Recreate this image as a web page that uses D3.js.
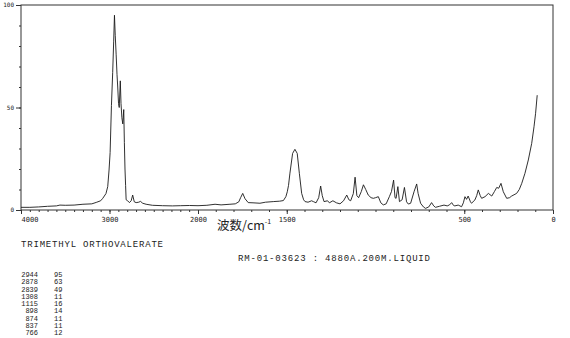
<!DOCTYPE html>
<html>
<head>
<meta charset="utf-8">
<script src="https://cdn.jsdelivr.net/npm/d3@7"></script>
<style>
  body { margin: 0; background: #fff; }
  svg { display: block; }
  .axis text { font-family: "DejaVu Sans Mono", monospace; fill: #222; }
  .axis line, .axis path { stroke: #333; }
  .mono { font-family: "Liberation Mono", "DejaVu Sans Mono", monospace; fill: #222; }
</style>
</head>
<body>
<div class="chart"></div>
<script>
// spectrum (wavenumber cm-1, relative intensity)
const wavenumbers = [4000, 3900, 3800, 3700, 3600, 3560, 3500, 3400, 3300, 3200, 3150, 3100, 3076, 3040, 3020, 3005,
  2993, 2978, 2964, 2953, 2944, 2935, 2925, 2915, 2907, 2898, 2890, 2878, 2870, 2860, 2850, 2839, 2832, 2825, 2818,
  2812, 2795, 2775, 2755, 2738, 2720, 2699, 2670, 2650, 2625, 2586, 2515, 2400, 2289, 2200, 2097, 2000, 1950, 1904,
  1870, 1820, 1790, 1770, 1760, 1748, 1735, 1717, 1690, 1651, 1620, 1576, 1540, 1519, 1505, 1497, 1490, 1482, 1467,
  1454, 1441, 1429, 1416, 1405, 1397, 1380, 1360, 1350, 1335, 1320, 1309, 1300, 1290, 1270, 1260, 1240, 1220, 1200,
  1180, 1162, 1150, 1140, 1125, 1115, 1105, 1095, 1080, 1068, 1055, 1041, 1025, 1012, 1000, 984, 970, 956, 940, 922,
  910, 898, 890, 884, 874, 865, 850, 837, 825, 815, 802, 783, 768, 760, 746, 730, 718, 700, 684, 672, 662, 640, 614,
  596, 583, 571, 560, 553, 534, 515, 505, 496, 487, 478, 465, 459, 440, 430, 421, 410, 402, 383, 364, 345, 330, 317,
  306, 293, 280, 261, 245, 233, 205, 190, 176, 158, 139, 120, 107, 98, 89];
const intensities = [1.3, 1.3, 1.5, 1.8, 2.0, 2.4, 2.3, 2.4, 2.8, 3.0, 3.7, 4.5, 5.7, 8, 11.4, 19.5,
  28, 51, 67, 82, 95, 85, 76, 66, 60, 52, 50, 63, 52, 45, 42, 49, 33, 20, 12,
  5, 4.5, 3.6, 4.5, 7.3, 4, 3.6, 3.8, 4.2, 3.3, 2.8, 2.3, 2.1, 2.0, 2.1, 2.2, 2.1, 2.3, 2.8,
  2.5, 2.8, 3.0, 4.0, 6, 8.1, 5.5, 3.6, 3.5, 3.3, 3.8, 4.1, 4.3, 4.6, 6.5, 8.9, 12, 18, 27.6,
  29.6, 27.6, 17.9, 8.1, 5, 4.1, 3.8, 4.5, 4.1, 3.5, 6, 11.7, 7, 4.1, 4.5, 3.5, 4.5, 3.5, 3,
  4.5, 7.3, 5, 4.5, 8, 16, 7, 6, 9, 12.3, 10, 7.3, 6, 5.7, 6, 6.5, 3.5, 2.5, 3, 6.5,
  9, 14.6, 6, 5.7, 11.4, 4.1, 5, 11, 4, 2.9, 3.3, 8.9, 12.7, 8.1, 3.3, 1.5, 0.8, 1.5, 3.6, 2, 1.3, 1.8, 2.4,
  2, 2.5, 3.6, 2.2, 2, 2.4, 1.6, 3.5, 6.5, 5.2, 6.8, 4, 3.3, 4.9, 7, 9.8, 7, 5.7, 6.5, 8.1, 6.8, 9, 11,
  10.6, 13, 8.9, 5.7, 6, 6.8, 8.1, 10, 13, 17.9, 24.4, 32.5, 40.6, 47.2, 56];

const xLabels = [4000, 3000, 2000, 1500, 500, 0];
const yLabels = [0, 50, 100];
const sampleName = "TRIMETHYL ORTHOVALERATE";
const sampleInfo = "RM-01-03623 : 4880A.200M.LIQUID";
const peakWn = ["2944", "2878", "2839", "1308", "1115", "898", "874", "837", "766"];
const peakInt = ["95", "63", "49", "11", "16", "14", "11", "11", "12"];

const W = 570, H = 338;
const svg = d3.select(".chart").append("svg")
    .attr("width", W)
    .attr("height", H);

// two-speed wavenumber axis: 4000-2000 is half the scale of 2000-0
const xScale = d3.scaleLinear()
    .domain([4000, 2000, 0])
    .range([21, 198, 553]);
const yScale = d3.scaleLinear()
    .domain([0, 100])
    .range([210, 5]);

// frame
svg.append("rect")
    .attr("x", 21).attr("y", 5)
    .attr("width", 532).attr("height", 205)
    .attr("fill", "none")
    .attr("stroke", "#333");

// minor ticks
const xMinor = d3.axisBottom(xScale)
    .tickValues(d3.range(0, 4001, 100))
    .tickSize(2)
    .tickFormat("");
svg.append("g")
    .attr("class", "axis")
    .attr("transform", "translate(0,210)")
    .call(xMinor)
    .call(g => g.select(".domain").remove());

const xMajor = d3.axisBottom(xScale)
    .tickValues(xLabels)
    .tickSize(4)
    .tickPadding(3)
    .tickFormat(d3.format("d"));
svg.append("g")
    .attr("class", "axis")
    .attr("transform", "translate(0,210)")
    .call(xMajor)
    .call(g => g.select(".domain").remove())
    .call(g => g.selectAll("text").attr("font-size", 7))
    .call(g => g.selectAll(".tick").filter(d => d === 4000).select("text").attr("text-anchor", "start"));

const yMinor = d3.axisLeft(yScale)
    .tickValues(d3.range(0, 101, 10))
    .tickSize(2)
    .tickFormat("");
svg.append("g")
    .attr("class", "axis")
    .attr("transform", "translate(21,0)")
    .call(yMinor)
    .call(g => g.select(".domain").remove());

const yMajor = d3.axisLeft(yScale)
    .tickValues(yLabels)
    .tickSize(5)
    .tickPadding(2)
    .tickFormat(d3.format("d"));
svg.append("g")
    .attr("class", "axis")
    .attr("transform", "translate(21,0)")
    .call(yMajor)
    .call(g => g.select(".domain").remove())
    .call(g => g.selectAll("text").attr("font-size", 6));

// spectrum
const points = wavenumbers.map((w, i) => [w, intensities[i]]);
const line = d3.line()
    .x(d => xScale(d[0]))
    .y(d => yScale(d[1]));
svg.append("path")
    .datum(points)
    .attr("d", line)
    .attr("fill", "none")
    .attr("stroke", "#1a1a1a")
    .attr("stroke-width", 0.9)
    .attr("stroke-linejoin", "round");

// x axis title
const title = svg.append("text")
    .attr("x", 217)
    .attr("y", 230)
    .attr("font-family", "'Noto Sans CJK SC', sans-serif")
    .attr("font-size", 12.5)
    .attr("fill", "#222");
title.append("tspan").text("波数/cm");
title.append("tspan").attr("font-size", 7).attr("dy", -6).text("-1");

// sample text
svg.append("text")
    .attr("class", "mono")
    .attr("x", 21)
    .attr("y", 247)
    .attr("font-size", 9)
    .attr("textLength", 142)
    .attr("lengthAdjust", "spacing")
    .text(sampleName);
svg.append("text")
    .attr("class", "mono")
    .attr("x", 238)
    .attr("y", 261)
    .attr("font-size", 9)
    .attr("textLength", 192)
    .attr("lengthAdjust", "spacing")
    .text(sampleInfo);

// peak table
svg.selectAll(".pw")
    .data(peakWn)
    .enter()
    .append("text")
    .attr("class", "mono")
    .attr("x", 38)
    .attr("y", (_, i) => 277 + i * 7.25)
    .attr("text-anchor", "end")
    .attr("font-size", 7)
    .text(d => d);
svg.selectAll(".pi")
    .data(peakInt)
    .enter()
    .append("text")
    .attr("class", "mono")
    .attr("x", 54)
    .attr("y", (_, i) => 277 + i * 7.25)
    .attr("font-size", 7)
    .text(d => d);
</script>
</body>
</html>
